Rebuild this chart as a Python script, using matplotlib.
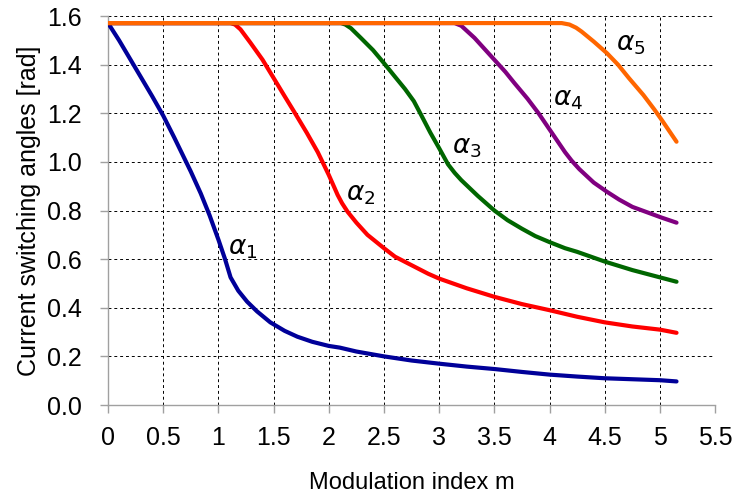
import numpy as np
import matplotlib
matplotlib.use('Agg')
import matplotlib.pyplot as plt

plt.rcParams['font.family'] = ['Liberation Sans', 'DejaVu Sans']

# switching angles vs modulation index, read per curve
m1 = [0, 0.1, 0.25, 0.4, 0.5, 0.6, 0.75, 0.84, 0.92, 1.0, 1.06, 1.11, 1.18, 1.26, 1.35, 1.47, 1.6, 1.715,
      1.85, 2.0, 2.1, 2.25, 2.5, 2.75, 3.0, 3.25, 3.5, 3.75, 4.0, 4.25, 4.5, 4.75, 5.0, 5.15]
a1 = [1.571, 1.50, 1.385, 1.27, 1.19, 1.10, 0.96, 0.87, 0.78, 0.68, 0.60, 0.525, 0.47, 0.425, 0.385, 0.34, 0.305, 0.281,
      0.26, 0.243, 0.236, 0.22, 0.20, 0.183, 0.17, 0.158, 0.148, 0.136, 0.125, 0.117, 0.11, 0.106, 0.102, 0.097]

m2 = [0, 1.11, 1.15, 1.2, 1.29, 1.4, 1.5, 1.6, 1.685, 1.8, 1.9, 2.0, 2.05, 2.08, 2.12, 2.17, 2.25, 2.35, 2.5,
      2.6, 2.75, 2.9, 3.0, 3.25, 3.5, 3.75, 4.0, 4.25, 4.5, 4.75, 5.0, 5.15]
a2 = [1.571, 1.571, 1.565, 1.545, 1.49, 1.42, 1.345, 1.27, 1.207, 1.12, 1.04, 0.946, 0.895, 0.864, 0.83, 0.795, 0.75, 0.70, 0.645,
      0.61, 0.575, 0.54, 0.52, 0.48, 0.445, 0.415, 0.39, 0.363, 0.34, 0.323, 0.31, 0.297]

m3 = [0, 2.11, 2.15, 2.2, 2.29, 2.4, 2.5, 2.6, 2.69, 2.77, 2.84, 2.92, 3.0, 3.08, 3.14, 3.2, 3.35, 3.5, 3.62,
      3.75, 3.87, 4.0, 4.14, 4.25, 4.5, 4.75, 5.0, 5.15]
a3 = [1.571, 1.571, 1.565, 1.55, 1.51, 1.46, 1.406, 1.35, 1.30, 1.25, 1.19, 1.12, 1.056, 0.99, 0.955, 0.925, 0.86, 0.80, 0.76,
      0.725, 0.695, 0.67, 0.645, 0.63, 0.59, 0.555, 0.525, 0.507]

m4 = [0, 3.14, 3.2, 3.26, 3.32, 3.42, 3.52, 3.6, 3.68, 3.8, 3.9, 4.02, 4.08, 4.14, 4.2, 4.27, 4.4, 4.52, 4.63,
      4.75, 4.9, 5.02, 5.15]
a4 = [1.571, 1.571, 1.56, 1.535, 1.51, 1.46, 1.41, 1.37, 1.325, 1.26, 1.20, 1.12, 1.08, 1.04, 1.005, 0.97, 0.915, 0.877, 0.845,
      0.815, 0.79, 0.77, 0.75]

m5 = [0, 4.11, 4.18, 4.24, 4.29, 4.4, 4.52, 4.62, 4.72, 4.85, 4.95, 5.02, 5.15]
a5 = [1.571, 1.571, 1.565, 1.552, 1.536, 1.495, 1.447, 1.40, 1.344, 1.275, 1.215, 1.17, 1.083]

colors = ['#000099', '#ff0000', '#006600', '#800080', '#ff6600']
labels = [r'$\alpha_1$', r'$\alpha_2$', r'$\alpha_3$', r'$\alpha_4$', r'$\alpha_5$']
label_pos = [(1.09, 0.64), (2.155, 0.864), (3.12, 1.057), (4.03, 1.255), (4.6, 1.48)]

fig = plt.figure(figsize=(7.35, 5.01), dpi=100)
ax = fig.add_axes([0.147, 0.1916, 0.826, 0.7764])

for m, a, c in zip([m1, m2, m3, m4, m5], [a1, a2, a3, a4, a5], colors):
    ax.plot(m, a, color=c, lw=3, solid_capstyle='round', solid_joinstyle='round', zorder=3)

for lab, (x, y) in zip(labels, label_pos):
    ax.text(x, y, lab, fontsize=19, ha='left', va='center', zorder=4)

ax.set_xlim(0, 5.5)
ax.set_ylim(0, 1.6)
ax.set_xticks(np.arange(0, 5.51, 0.5))
ax.set_xticklabels(['0', '0.5', '1', '1.5', '2', '2.5', '3', '3.5', '4', '4.5', '5', '5.5'])
ax.set_yticks(np.arange(0, 1.61, 0.2))
ax.set_yticklabels(['%.1f' % v for v in np.arange(0, 1.61, 0.2)])
ax.grid(True, color='black', linestyle=(0, (3, 3)), linewidth=0.7)

for s in ['top', 'right']:
    ax.spines[s].set_visible(False)
for s in ['left', 'bottom']:
    ax.spines[s].set_color('#a0a0a0')
    ax.spines[s].set_linewidth(1)
ax.tick_params(colors='#a0a0a0', labelcolor='black', labelsize=18, length=6, width=1, direction='out')
ax.tick_params(axis='x', pad=9)
ax.tick_params(axis='y', pad=13)

ax.set_xlabel('Modulation index m', fontsize=17, labelpad=16)
ax.set_ylabel('Current switching angles [rad]', fontsize=18, labelpad=4)

fig.savefig('out.png', dpi=100)
